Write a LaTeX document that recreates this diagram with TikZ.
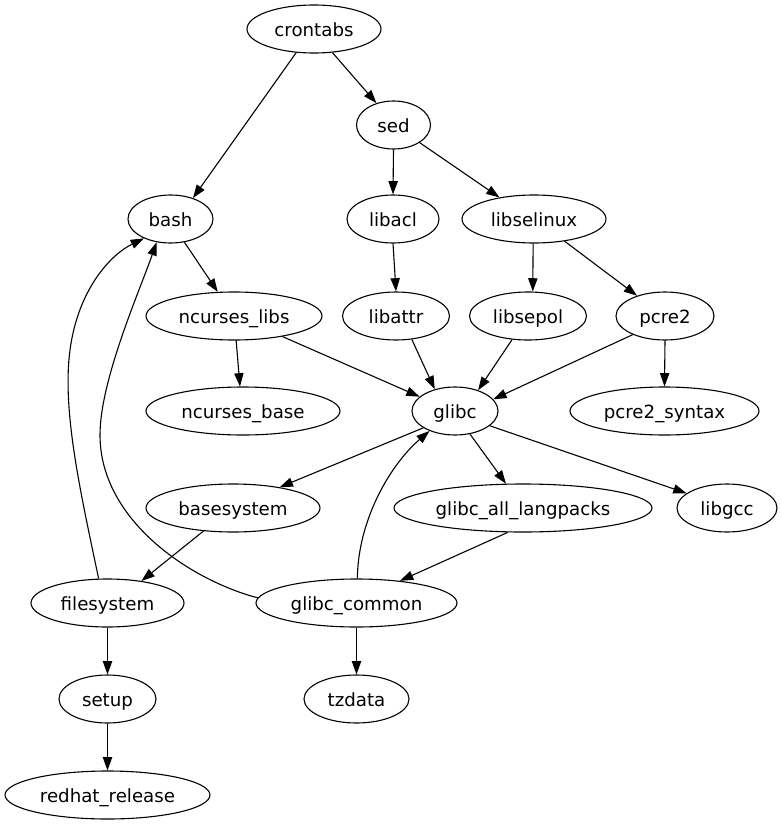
\documentclass[tikz,border=0pt]{standalone}
\usepackage{fontspec}
\setmainfont{DejaVu Sans}
\usetikzlibrary{shapes.geometric,arrows.meta}
\tikzset{
  pkg/.style={ellipse,draw,line width=1.1pt,minimum height=48pt,inner sep=0pt,text height=14pt,text depth=0pt,font=\fontsize{18.2}{22}\selectfont},
  dep/.style={line width=1.1pt,-{Triangle[length=13.3pt,width=9.3pt]}}
}
\begin{document}
\begin{tikzpicture}[x=1pt,y=-1pt]
\useasboundingbox (0,0) rectangle (781,827);
\node[pkg,minimum width=134pt] (crontabs) at (314,29) {crontabs};
\node[pkg,minimum width=74pt] (sed) at (393.5,125) {sed};
\node[pkg,minimum width=85pt] (bash) at (170.5,219) {bash};
\node[pkg,minimum width=92pt] (libacl) at (393,219) {libacl};
\node[pkg,minimum width=144pt] (libselinux) at (534,219) {libselinux};
\node[pkg,minimum width=176pt] (ncurseslibs) at (234,316) {ncurses\_libs};
\node[pkg,minimum width=107pt] (libattr) at (396,316) {libattr};
\node[pkg,minimum width=117pt] (libsepol) at (528,316) {libsepol};
\node[pkg,minimum width=98pt] (pcre2) at (665,316) {pcre2};
\node[pkg,minimum width=194pt] (ncursesbase) at (243,411) {ncurses\_base};
\node[pkg,minimum width=86pt] (glibc) at (455,411) {glibc};
\node[pkg,minimum width=189pt] (pcre2syntax) at (664.5,411) {pcre2\_syntax};
\node[pkg,minimum width=174pt] (basesystem) at (233,508) {basesystem};
\node[pkg,minimum width=258pt] (langpacks) at (523,508) {glibc\_all\_langpacks};
\node[pkg,minimum width=100pt] (libgcc) at (727,508) {libgcc};
\node[pkg,minimum width=153pt] (filesystem) at (107.5,603) {filesystem};
\node[pkg,minimum width=201pt] (glibccommon) at (356.5,603) {glibc\_common};
\node[pkg,minimum width=97pt] (setup) at (107.5,699) {setup};
\node[pkg,minimum width=105pt] (tzdata) at (356.5,699) {tzdata};
\node[pkg,minimum width=205pt] (redhat) at (107.5,795) {redhat\_release};

\draw[dep] (crontabs.233) -- (bash.43);
\draw[dep] (crontabs.308) -- (sed.128);
\draw[dep] (sed.south) -- (libacl.north);
\draw[dep] (sed.326) -- (libselinux.148.5);
\draw[dep] (bash.301) -- (ncurseslibs.124.8);
\draw[dep] (libacl.south) -- (libattr.north);
\draw[dep] (libselinux.268) -- (libsepol.79);
\draw[dep] (libselinux.324) -- (pcre2.144.5);
\draw[dep] (ncurseslibs.275) -- (ncursesbase.97);
\draw[dep] (ncurseslibs.337.6) -- (glibc.158);
\draw[dep] (libattr.304) -- (glibc.133.6);
\draw[dep] (libsepol.236) -- (glibc.42);
\draw[dep] (pcre2.210) -- (glibc.17);
\draw[dep] (pcre2.south) -- (pcre2syntax.north);
\draw[dep] (glibc.208.5) -- (basesystem.24.4);
\draw[dep] (glibc.303) -- (langpacks.125);
\draw[dep] (glibc.337) -- (libgcc.160.6);
\draw[dep] (langpacks.238) -- (glibccommon.27.4);
\draw[dep] (basesystem.218.7) -- (filesystem.33);
\draw[dep] (filesystem.south) -- (setup.north);
\draw[dep] (setup.south) -- (redhat.north);
\draw[dep] (glibccommon.south) -- (tzdata.north);
\draw[dep] (glibccommon.88) .. controls (358,520) and (390,465) .. (glibc.218);
\draw[dep] (filesystem.110) .. controls (80,490) and (62,410) .. (70,350)
  .. controls (78,290) and (110,255) .. (bash.216);
\draw[dep] (glibccommon.177) .. controls (190,580) and (100,520) .. (100,435)
  .. controls (100,380) and (140,290) .. (bash.239);
\end{tikzpicture}
\end{document}
